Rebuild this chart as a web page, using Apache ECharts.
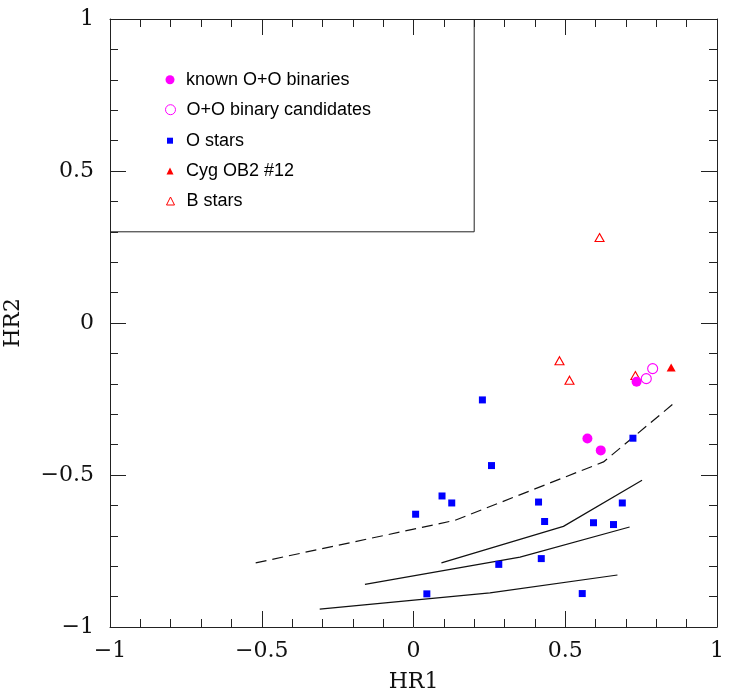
<!DOCTYPE html>
<html>
<head>
<meta charset="utf-8">
<script src="https://cdn.jsdelivr.net/npm/echarts@6/dist/echarts.min.js"></script>
<style>html,body{margin:0;padding:0;background:#fff;}#chart{width:729px;height:695px;}</style>
</head>
<body>
<div id="chart"></div>
<script>
// ---- data (HR1, HR2) ----
var seriesNames = ['known O+O binaries', 'O+O binary candidates', 'O stars', 'Cyg OB2 #12', 'B stars'];
var knownBinaries = [[0.573, -0.380], [0.617, -0.419], [0.735, -0.193]];
var binaryCandidates = [[0.767, -0.183], [0.788, -0.150]];
var oStars = [[0.227, -0.253], [0.257, -0.469], [0.094, -0.569], [0.126, -0.592], [0.007, -0.629],
  [0.412, -0.589], [0.432, -0.653], [0.593, -0.657], [0.659, -0.663], [0.688, -0.592],
  [0.723, -0.379], [0.281, -0.794], [0.421, -0.775], [0.044, -0.891], [0.556, -0.890]];
var cygOB2_12 = [[0.849, -0.146]];
var bStars = [[0.613, 0.281], [0.481, -0.124], [0.514, -0.188], [0.731, -0.173]];
var dashedModel = [[-0.520, -0.789], [0.137, -0.649], [0.626, -0.457], [0.863, -0.260]];
var solidModel1 = [[0.092, -0.789], [0.494, -0.669], [0.753, -0.517]];
var solidModel2 = [[-0.160, -0.860], [0.351, -0.770], [0.712, -0.671]];
var solidModel3 = [[-0.309, -0.941], [0.252, -0.888], [0.672, -0.829]];
var legendBox = [[-1, 0.3], [0.2, 0.3], [0.2, 1]];

var BLUE = '#0000ff', MAG = '#ff00ff', RED = '#ff0000';
var chart = echarts.init(document.getElementById('chart'), null, {renderer: 'canvas'});

function fmt(v) { return String(v).replace('-', '\u2212'); }
var serif = 'DejaVu Serif';
var labelStyle = {fontFamily: serif, fontSize: 22, color: '#111', formatter: fmt};
function axisCommon(extra) {
  var a = {
    type: 'value', min: -1, max: 1, interval: 0.5,
    axisLine: {show: true, onZero: false, lineStyle: {color: '#222', width: 1}},
    axisTick: {show: true, inside: true, length: 16, lineStyle: {color: '#222', width: 1}},
    minorTick: {show: true, splitNumber: 5, length: 8, lineStyle: {color: '#222', width: 1}},
    splitLine: {show: false},
    minorSplitLine: {show: false}
  };
  for (var k in extra) a[k] = extra[k];
  return a;
}

var lineBase = {type: 'line', xAxisIndex: 0, yAxisIndex: 0, showSymbol: false, symbol: 'none', silent: true, z: 1};
function lineSeries(data, dashed) {
  return Object.assign({}, lineBase, {
    data: data,
    lineStyle: {color: '#111', width: 1.2, type: dashed ? [11, 6] : 'solid'}
  });
}

var rows = [79.7, 109.7, 140.7, 171, 201];
var iconH = [9, 10, 6, 7, 8];
var legends = seriesNames.map(function (n, i) {
  var empty = (i === 1 || i === 4);
  var h = iconH[i];
  return {
    data: [n], orient: 'vertical', left: 170 - h / 2, top: rows[i] - 10,
    padding: 0, itemGap: 0, itemWidth: h, itemHeight: h,
    selectedMode: false,
    textStyle: {fontFamily: 'Liberation Sans', fontSize: 18, color: '#000', lineHeight: 20,
      padding: [0, 0, 0, 11 - h / 2]},
    itemStyle: {borderWidth: empty ? 1 : 0}
  };
});

chart.setOption({
  animation: false,
  backgroundColor: '#fff',
  legend: legends,
  grid: {left: 110, right: 12, top: 19, bottom: 68, containLabel: false, outerBoundsMode: 'none'},
  xAxis: [
    axisCommon({position: 'bottom', name: 'HR1', nameLocation: 'middle', nameGap: 44,
      nameTextStyle: {fontFamily: serif, fontSize: 22, color: '#111'},
      axisLabel: Object.assign({margin: 13}, labelStyle)}),
    axisCommon({position: 'top', axisLabel: {show: false}})
  ],
  yAxis: [
    axisCommon({position: 'left', name: 'HR2', nameLocation: 'middle', nameGap: 86, nameRotate: 90,
      nameTextStyle: {fontFamily: serif, fontSize: 22, color: '#111'},
      axisLabel: Object.assign({margin: 16}, labelStyle)}),
    axisCommon({position: 'right', axisLabel: {show: false}})
  ],
  series: [
    Object.assign({}, lineBase, {data: legendBox, lineStyle: {color: '#222', width: 1}}),
    lineSeries(dashedModel, true),
    lineSeries(solidModel1, false),
    lineSeries(solidModel2, false),
    lineSeries(solidModel3, false),
    {name: 'O stars', type: 'scatter', data: oStars, symbol: 'rect', symbolSize: 7,
      itemStyle: {color: BLUE, opacity: 1}, z: 3},
    {name: 'B stars', type: 'scatter', data: bStars, symbol: 'triangle', symbolSize: [9, 8],
      itemStyle: {color: '#fff', borderColor: RED, borderWidth: 1.1, opacity: 1}, z: 3},
    {name: 'known O+O binaries', type: 'scatter', data: knownBinaries, symbol: 'circle', symbolSize: 10,
      itemStyle: {color: MAG, opacity: 1}, z: 4},
    {name: 'O+O binary candidates', type: 'scatter', data: binaryCandidates, symbol: 'circle', symbolSize: 10,
      itemStyle: {color: '#fff', borderColor: MAG, borderWidth: 1.1, opacity: 1}, z: 4},
    {name: 'Cyg OB2 #12', type: 'scatter', data: cygOB2_12, symbol: 'triangle', symbolSize: [9, 8],
      itemStyle: {color: RED, opacity: 1}, z: 4}
  ]
});
</script>
</body>
</html>
